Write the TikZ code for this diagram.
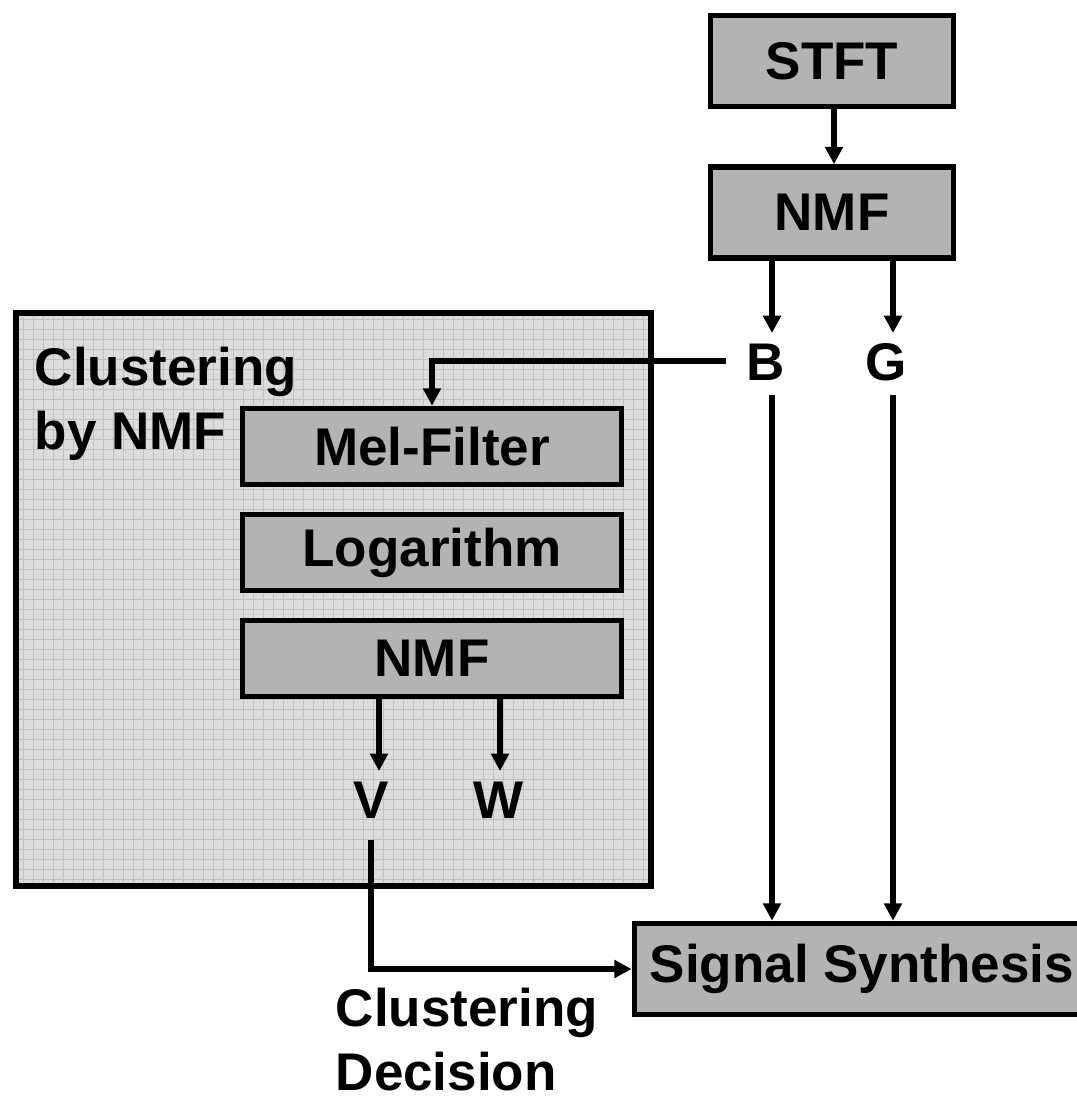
\documentclass[tikz,border=0pt]{standalone}
\usepackage{fontspec}
\setmainfont{Liberation Sans}
\usetikzlibrary{arrows.meta,calc}
\definecolor{boxgray}{HTML}{B3B3B3}
\definecolor{panelgray}{HTML}{DCDCDC}
\definecolor{gridgray}{HTML}{C0C0C0}
\begin{document}
\begin{tikzpicture}[x=0.75pt,y=-0.75pt,
  txt/.style={font=\fontsize{39.75}{48}\selectfont\bfseries},
  block/.style={txt, draw=black, line width=4.3pt, fill=boxgray, inner sep=0pt},
  wideblock/.style={block, minimum width=182.25pt, minimum height=68.25pt},
  innerblock/.style={block, minimum width=284.25pt, minimum height=57pt},
  lbl/.style={txt, inner sep=0pt, anchor=base},
  arr/.style={line width=4.5pt, -{Triangle[width=13pt,length=13pt]}}]
\useasboundingbox (0,0) rectangle (1077,1097);
\fill[white] (0,0) rectangle (1077,1097);
\clip (0,0) rectangle (1077,1097);

% panel
\node[draw=black, line width=4.3pt, fill=panelgray, inner sep=0pt,
      minimum width=476.25pt, minimum height=429.75pt,
      path picture={\draw[gridgray, line width=0.75pt, step=7.5pt]
        (path picture bounding box.south west) grid (path picture bounding box.north east);}]
      (panel) at (333.5,599.5) {};
\node[txt, align=left, anchor=north west, inner sep=0pt] (title) at (34.5,346.4) {Clustering\\by NMF};

% blocks
\node[wideblock] (stft) at (832,61) {STFT};
\node[wideblock] (nmfa) at (832,212.5) {NMF};
\node[innerblock] (mel) at (432,446.5) {Mel-Filter};
\node[innerblock] (logb) at (432,552.5) {Logarithm};
\node[innerblock] (nmfb) at (432,658.5) {NMF};
\node[block, minimum width=340.9pt, minimum height=68.25pt] (sig) at (861.75,969) {Signal Synthesis};

% labels
\node[lbl] (B) at (766,380) {B};
\node[lbl] (G) at (886,380) {G};
\node[lbl] (V) at (371,818) {V};
\node[lbl] (W) at (499,818) {W};
\node[txt, align=left, anchor=north west, inner sep=0pt] (decision) at (335.5,988) {Clustering\\Decision};

% helper coordinates
\coordinate (Bin) at ($(B.base)+(6,-47)$);
\coordinate (Bout) at ($(B.base)+(6,15)$);
\coordinate (Gin) at ($(G.base)+(7,-47)$);
\coordinate (Gout) at ($(G.base)+(7,15)$);
\coordinate (Bleft) at ($(B.base)+(-40,-19)$);
\coordinate (Vin) at ($(V.base)+(8,-47)$);
\coordinate (Vout) at ($(V.base)+(0,22)$);
\coordinate (Win) at ($(W.base)+(1,-47)$);

% connectors
\draw[arr] ($(stft.south)+(2,0)$) -- ($(nmfa.north)+(2,0)$);
\draw[arr] (Bin |- nmfa.south) -- (Bin);
\draw[arr] (Gin |- nmfa.south) -- (Gin);
\draw[arr] (Bout) -- (Bout |- sig.north);
\draw[arr] (Gout) -- (Gout |- sig.north);
\draw[arr] (Bleft) -| (mel.north);
\draw[arr] (Vin |- nmfb.south) -- (Vin);
\draw[arr] (Win |- nmfb.south) -- (Win);
\draw[arr] (Vout) |- (sig.west);
\end{tikzpicture}
\end{document}
